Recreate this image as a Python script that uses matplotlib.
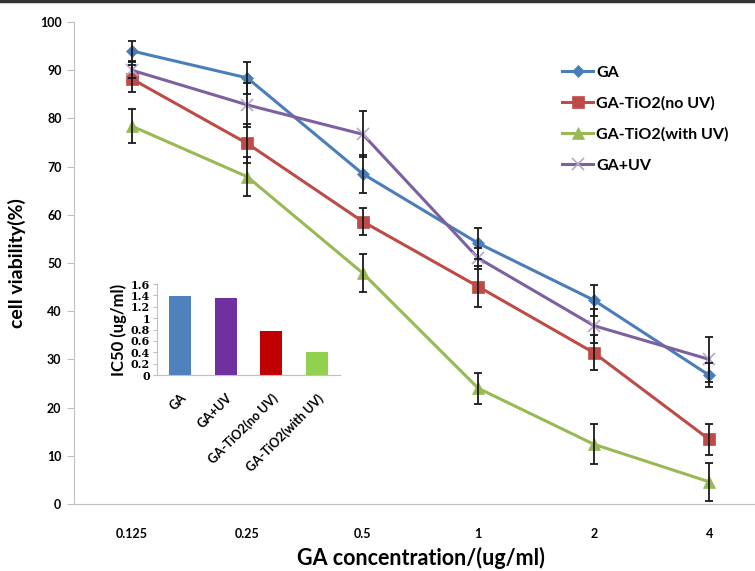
import matplotlib.pyplot as plt
import numpy as np

plt.rcParams['font.family'] = ['Lato', 'DejaVu Sans']

# main chart data
conc_labels = ['0.125', '0.25', '0.5', '1', '2', '4']
ga = [94.0, 88.4, 68.5, 54.1, 42.3, 26.7]
ga_err = [2.1, 3.4, 4.0, 3.2, 3.2, 2.5]
tio2_no_uv = [88.2, 74.8, 58.6, 45.1, 31.4, 13.4]
tio2_no_uv_err = [2.8, 4.0, 2.8, 4.2, 3.6, 3.3]
tio2_uv = [78.4, 67.9, 47.9, 24.0, 12.4, 4.6]
tio2_uv_err = [3.5, 4.1, 3.9, 3.2, 4.2, 4.0]
ga_uv = [90.0, 82.8, 76.7, 51.0, 37.0, 30.0]
ga_uv_err = [1.6, 4.5, 4.8, 2.2, 3.5, 4.6]

# inset data
ic50_labels = ['GA', 'GA+UV', 'GA-TiO2(no UV)', 'GA-TiO2(with UV)']
ic50 = [1.39, 1.35, 0.77, 0.41]
ic50_colors = ['#4f81bd', '#7030a0', '#c00000', '#92d050']

fig = plt.figure(figsize=(7.55, 5.71), dpi=100)
ax = fig.add_axes([74 / 755, 67 / 571, 693 / 755, 482 / 571])

x = np.arange(len(conc_labels))
series = [
    (ga, ga_err, 'GA', '#4a7ebb', 'D', 6, '#4a7ebb'),
    (tio2_no_uv, tio2_no_uv_err, 'GA-TiO2(no UV)', '#be4b48', 's', 9, '#be4b48'),
    (tio2_uv, tio2_uv_err, 'GA-TiO2(with UV)', '#98b954', '^', 8, '#98b954'),
    (ga_uv, ga_uv_err, 'GA+UV', '#7d60a0', 'x', 8, '#b4a6cc'),
]
for vals, errs, name, col, mk, ms, mcol in series:
    ax.errorbar(x, vals, yerr=errs, fmt='none', ecolor='#1a1a1a', elinewidth=1.3,
                capsize=3, capthick=1.3, zorder=4)
    ax.plot(x, vals, color=col, marker=mk, markersize=ms, linewidth=2.2,
            label=name, zorder=3, markerfacecolor=mcol, markeredgecolor=mcol,
            markeredgewidth=1.2 if mk == 'x' else 0.5)

ax.set_xlim(-0.5, 5.5)
ax.set_ylim(0, 100)
ax.set_xticks(x)
ax.set_xticklabels(conc_labels)
ax.set_yticks(range(0, 101, 10))
for s in ['top', 'right']:
    ax.spines[s].set_visible(False)
for s in ['left', 'bottom']:
    ax.spines[s].set_color('#c0c0c0')
ax.tick_params(axis='y', direction='out', length=5, color='#c0c0c0', pad=4)
ax.tick_params(axis='x', length=0, pad=17)
for lab in ax.get_xticklabels() + ax.get_yticklabels():
    lab.set_fontsize(9)
    lab.set_fontweight('bold')
ax.set_ylabel('cell viability(%)', fontsize=14, fontweight='bold', labelpad=10)
ax.set_xlabel('GA concentration/(ug/ml)', fontsize=15.5, fontweight='bold', labelpad=5)

leg = ax.legend(loc='upper left', bbox_to_anchor=(548 / 755, 520 / 571),
                bbox_transform=fig.transFigure, frameon=False, fontsize=11.5,
                handlelength=1.9, handletextpad=0.2, labelspacing=1.05)
for t in leg.get_texts():
    t.set_fontweight('bold')

# inset bar chart
ins = fig.add_axes([157 / 755, 196 / 571, 183 / 755, 91 / 571])
xi = np.arange(len(ic50_labels))
ins.bar(xi, ic50, width=0.48, color=ic50_colors)
ins.set_xlim(-0.5, 3.5)
ins.set_ylim(0, 1.6)
ins.set_yticks(np.arange(0, 1.61, 0.2))
ins.set_yticklabels(['0', '0.2', '0.4', '0.6', '0.8', '1', '1.2', '1.4', '1.6'],
                    family='DejaVu Serif', fontsize=8, fontweight='bold')
ins.set_xticks(xi)
ins.set_xticklabels(ic50_labels, rotation=45, ha='right', rotation_mode='anchor',
                    fontsize=9, fontweight='bold')
for s in ['top', 'right']:
    ins.spines[s].set_visible(False)
for s in ['left', 'bottom']:
    ins.spines[s].set_color('#c0c0c0')
ins.tick_params(axis='y', length=3, color='#c0c0c0', pad=2)
ins.tick_params(axis='x', length=0, pad=12)
ins.patch.set_alpha(0)
ins.set_ylabel('IC50 (ug/ml)', fontsize=12, fontweight='bold', labelpad=3)

# frame line at the top of the image
fig.add_artist(plt.Line2D([0, 1], [0.998, 0.998], color='#333333', linewidth=2.5,
                          transform=fig.transFigure))

fig.savefig('out.png', dpi=100)
